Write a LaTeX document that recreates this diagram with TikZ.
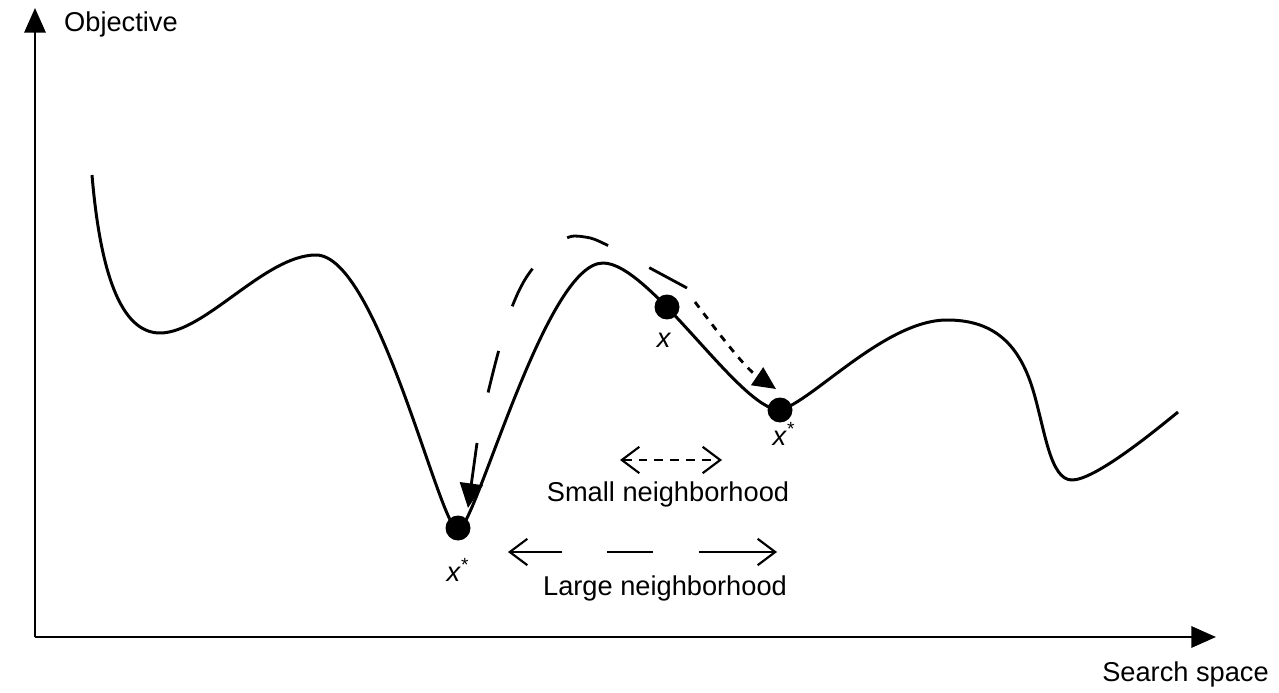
\documentclass[tikz,border=0pt]{standalone}
\usepackage{fontspec}
\setmainfont{Liberation Sans}
\usetikzlibrary{arrows.meta}

\begin{document}
\begin{tikzpicture}[x=0.02cm, y=-0.02cm, font=\fontsize{15.5}{18}\selectfont,
    eje/.style={line width=1.6pt, -{Triangle[length=14pt, width=12pt]}},
    curva/.style={line width=1.7pt, line join=round},
    punto/.style={circle, fill=black, inner sep=0pt, minimum size=0.5cm},
    salto/.style={line width=1.6pt, dash pattern=on 24.4pt off 26.6pt},
    vecindad/.style={line width=1.2pt, {Straight Barb[length=10pt, width=15pt]}-{Straight Barb[length=10pt, width=15pt]}}]

    % Marco de la figura
    \useasboundingbox (0,0) rectangle (1279,693);

    % Ejes
    \coordinate (origen) at (35,637);
    \coordinate (ytop) at (35,8);
    \coordinate (xfin) at (1216,637);
    \draw[eje] (origen) -- (ytop);
    \draw[eje] (origen) -- (xfin);
    \node[anchor=west] (objetivo) at (58,24) {Objective};
    \node[anchor=east] (espacio) at (1275,674) {Search space};

    % Funcion objetivo
    \draw[curva] (92,175) .. controls (100,270) and (120,333) .. (160,333)
        .. controls (205,333) and (265,255) .. (316,255)
        .. controls (378,255) and (440,530) .. (458,530)
        .. controls (475,530) and (545,263) .. (603,263)
        .. controls (650,263) and (740,410) .. (780,410)
        .. controls (812,402) and (885,320) .. (947,320)
        .. controls (990,320) and (1018,340) .. (1033,390)
        .. controls (1045,430) and (1050,480) .. (1072,480)
        .. controls (1094,480) and (1150,435) .. (1178,412);

    % Soluciones
    \node[punto] (xini) at (667,307) {};
    \node[punto] (xloc) at (780,410) {};
    \node[punto] (xglob) at (458,528) {};
    \node (lxini) at (664,340) {\textit{x}};
    \node (lxloc) at (784,434) {\textit{x}\textsuperscript{*}};
    \node (lxglob) at (458,570) {\textit{x}\textsuperscript{*}};

    % Movimiento en vecindad pequena
    \coordinate (pini) at (695,302);
    \coordinate (pfin) at (776,389);
    \draw[line width=1.6pt, dash pattern=on 4pt off 4pt, -{Triangle[length=13pt, width=12pt]}]
        (pini) .. controls (720,335) and (745,368) .. (pfin);

    % Movimiento en vecindad grande
    \coordinate (gini) at (687,288);
    \coordinate (gmed) at (487,397);
    \coordinate (gsal) at (477,443);
    \coordinate (gfin) at (468,508);
    \draw[salto] plot[smooth, tension=0.6] coordinates {(gini) (648,267) (607,245) (585,237)
        (563,240) (530,272) (510,312) (497,357) (gmed)};
    \draw[line width=1.6pt, -{Triangle[length=14pt, width=13pt]}] (gsal) -- (gfin);

    % Vecindades
    \coordinate (pv1) at (620,460);
    \coordinate (pv2) at (722,460);
    \draw[vecindad, dash pattern=on 5pt off 4pt] (pv1) -- (pv2);
    \node (pequena) at (668,494) {Small neighborhood};

    \coordinate (gv1) at (508,552);
    \coordinate (gv2) at (777,552);
    \draw[vecindad, dash pattern=on 29pt off 26pt on 26pt off 26pt on 60pt] (gv1) -- (gv2);
    \node (grande) at (665,588) {Large neighborhood};

\end{tikzpicture}
\end{document}
